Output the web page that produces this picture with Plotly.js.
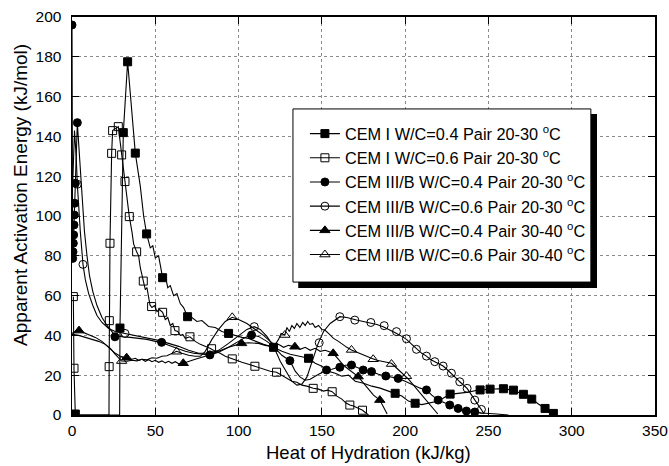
<!DOCTYPE html>
<html>
<head>
<meta charset="utf-8">
<script src="https://cdn.plot.ly/plotly-3.0.1.min.js"></script>
<style>html,body{margin:0;padding:0;background:#fff;}#chart{width:669px;height:466px;}</style>
</head>
<body>
<div id="chart"></div>
<script>
// Series names
const names = [
  "CEM I W/C=0.4 Pair 20-30 <sup>o</sup>C",
  "CEM I W/C=0.6 Pair 20-30 <sup>o</sup>C",
  "CEM III/B W/C=0.4 Pair 20-30 <sup>o</sup>C",
  "CEM III/B W/C=0.6 Pair 20-30 <sup>o</sup>C",
  "CEM III/B W/C=0.4 Pair 30-40 <sup>o</sup>C",
  "CEM III/B W/C=0.6 Pair 30-40 <sup>o</sup>C"
];
const xTitle = "Heat of Hydration (kJ/kg)";
const yTitle = "Apparent Activation Energy (kJ/mol)";

// Series 1: CEM I W/C=0.4 Pair 20-30
const s1x = [2,28.6,28.8,30.8,33.4,38,41,43,44.8,47,48.5,50,52,54.4,56,57.5,59,61,63,65,67,69.4,72,75,78,82,86,90,94,98,102,106,110,115,121,126,131,136,142,146,150,154,158,162,166,170,175,180,185,190,194,198,202,206,210,215,220,224,228,233,238,244,250,256,261,266,271,276,280,284,289];
const s1y = [0,0,43.7,141.9,177.5,131.6,115,100,91,84,85,79,80,69,70,64,65,60,61,56,54,49.4,49,47,47.5,44.5,44,42,41,40,39,38.5,37,35.5,34,32,30.5,29.5,28.5,26,24.5,22,21,19.5,20,17,16,14.5,13.5,12,10.9,9.5,7,5.9,5.2,6,7,9,10.5,11,11.5,12.6,13,13.2,13,12,10.4,8,5.5,3.3,0.5];
const s1mx = [2,28.8,30.8,33.4,38,44.8,54.4,69.4,94,121,142,194,206,227,245,251,259,265,271,276,284,289];
const s1my = [0.5,43.7,141.9,177.5,131.6,91,69,49.4,41,34,28.5,10.9,5.9,10.5,12.6,13,13.2,12.5,10.4,8,3.3,0.8];

// Series 2: CEM I W/C=0.6 Pair 20-30
const s2x = [0.8,1.2,2,22.2,22.3,22.4,22.8,23.8,24.4,27.8,29.8,31.8,34.4,36,37,38.8,40,41,42.8,44,45,46,46.8,48,49.5,51,52.5,54.4,56,57.5,59,60.5,61.8,63.5,65,66.5,68,70.8,74,77,80,82.8,86,89,92,95.8,99,102,106,109.8,113,116,119,122.8,126,129,132,135,138,141,144.8,148,151,153.5,156.2,159,162,164.5,166.8,169,171.5,174.4,176.5,178];
const s2y = [59.5,23,0,0,24.3,47.4,86.3,131.5,142.9,144.9,130.7,117.3,99.7,92,86,82,80,74,67.3,63,64,58,55.3,54,55,52,53,51.6,48,49,45,46,42.4,42,40,40.5,38.5,39.3,37,35.5,34.5,33.5,32,31,29.5,28.3,27.5,26.5,25.5,24.5,23.5,23,22,21.5,20,18.5,17,16.5,15,14.5,13.4,13,12,12.5,11.7,9.5,8,6,5,4.5,3.5,2.4,1,0];
const s2mx = [0.8,1.2,22.3,22.4,22.8,23.8,24.4,27.8,29.8,31.8,34.4,38.8,42.8,47.8,54.4,61.8,70.8,83.8,96.2,109.8,122.8,144.8,156.2,166.8,174.4];
const s2my = [59.5,23.5,24.3,47.4,86.3,131.5,142.9,144.9,130.7,117.3,99.7,82,67.3,54.5,51.6,42.4,39.3,33.3,28.2,24.5,21.5,13.4,11.7,5,2.4];

// Series 3: CEM III/B W/C=0.4 Pair 20-30
const s3x = [0,0.4,0.6,0.8,1,1.2,1.4,1.6,2,3.2,4.5,6,7.5,9,10.5,12.5,15,18,21,25.8,30,35,40,45,50,53.8,58,63,68,73,78,82.8,88,94,100,104,107.8,112,117,121,126,130.8,134,137,140,143,147,152.8,156,160.8,164,167.8,171,174.8,179.8,184,188.4,192,195.8,200,205,209,212.8,216,219.8,223,226.8,231.8,236.8,241.8,246,255,262];
const s3y = [196,78.7,82,86.3,90.5,95.5,100.5,106.4,116.4,146.9,130,108,92,80,70,62,55,49,45,40,39.3,39,38.5,38,37,36.5,35,33.5,32,31,30.5,30.2,31.5,34,37,39,40.2,39.5,37,34.5,30,27.3,22,19,17.5,18,20,22.6,23,24,25,25.1,24,22.6,21.8,20.5,19.6,19,18.4,17,15,13.5,12.6,10,7.5,6.5,5,3.3,2,1.5,1,0.5,0];
const s3mx = [0,0.4,0.6,0.8,1,1.2,1.4,1.6,2,3.2,25.8,53.8,82.8,107.8,130.8,152.8,160.8,167.8,174.8,179.8,188.4,195.8,212.8,219.8,226.8,231.8,236.8,241.8];
const s3my = [196,78.7,82,86.3,90.5,95.5,100.5,106.4,116.4,146.9,39.3,36.5,30.2,40.2,27.3,22.6,24,25.1,22.6,21.8,19.6,18.4,12.6,7.5,5,3.3,2,1.5];

// Series 4: CEM III/B W/C=0.6 Pair 20-30
const s4x = [0.5,1.5,2.5,3.2,5,6.6,8,10,12.5,15,18,22,26,31.8,38,45,52,58,64,70,76,82,88,94,100,105,109.4,113,117,121,125,129,132,135,138,141,144,147.8,151,155,160.8,165,170.8,175,179.8,183,186.8,190,193.8,197,200.8,204,207.8,210,212.8,215,217.8,220,222.8,225,227.8,230,232.8,235,237.2,239.5,241.8,243.8,245.8,247.5];
const s4y = [118,143,130,116,92,75.7,68,61,55,50,46.5,43.5,42,41,40,39,37.5,36,34.5,32.5,31,31,32.5,36,40,43,44.4,43,39.5,34.5,27,21,17,15,15.5,19,27,36,42,46,49.4,49,47.7,47,46.4,45.5,44.4,43.2,41.5,40,38,35.5,32.7,31,29.6,28,26.8,25.8,24.6,23,21,19,16.7,15,13.4,10.5,7.5,5,2.8,0.5];
const s4mx = [3.2,6.6,31.8,109.4,148.4,160.8,169.8,179.4,187.4,194.8,200.8,206.8,212.8,217.8,222.8,227.8,232.8,237.2,241.8,245.8];
const s4my = [116,75.7,41,44.4,36.3,49.4,47.7,46.5,44.9,41.9,38.3,33,29.6,26.8,24.6,21,16.7,13.4,7.5,2.8];

// Series 5: CEM III/B W/C=0.4 Pair 30-40
const s5x = [0,2,4.2,7,10,14,18,22,26,29,32.8,36,38,40,42,44,46,48,50,52,54,56,58,60,62,64,66.8,70,74,78,82.8,88,94,101.8,106,112,116,121,124,127,130,133.8,137,140,143,146,149,152,156.8,160,163,166,169,171.8,175,178,181,184.8,187,189.2];
const s5y = [41,42,42.4,41.5,40.5,39,37,34,31,29.5,28.8,28,28.5,27.5,28,27,27.8,26.8,27.5,26.5,27.2,26.2,27,26,26.8,25.8,26,27,28,29,30.2,32,34,36,36.3,36,35,34.3,35.5,34,35,34.3,33,34,32.5,33.5,32,32.5,31,28,25,23,21,19.3,16,13,10,7.5,4,0.5];
const s5mx = [4.2,32.8,66.8,101.8,133.8,156.8,171.8,184.8];
const s5my = [42.4,28.8,26,36,34.3,31,19.3,7.5];

// Series 6: CEM III/B W/C=0.6 Pair 30-40
const s6x = [0,4,8,12,16,20,23,26,29.8,33,36,39,42,45,48,51,54,57,60,62.8,66,70,74,77,80,84,88,92,96.2,100,105,110,115,119,121.8,124,125.5,127.8,129,130.5,132,133.5,135,136.8,138.5,140,141.5,142.8,144.5,146,148,150,151.8,154,157,160,163,165,167.8,171,174,177,179.8,183,186,189,191.8,195,197.5,199.8,202,205,208,211,214,217,219.6];
const s6y = [40.5,40,39,38,37,35.5,33.5,30.5,27.1,27,27.5,27.2,28,27.8,28.8,28.5,29.5,29.8,30.8,32,31,30,29.5,29.5,32,38,43,47,49.1,48,46,43,40,37,35.2,38,41,40.2,44,42,45,43.5,46,44,46.5,45,47,45.5,46,44,45,43,42.7,41,38.5,37,35,34,32.7,31.5,30.5,29.5,28.5,27.5,27,26.5,26,23.5,21.5,20.1,18,15,12,9,6,3,0.5];
const s6mx = [29.8,62.8,96.2,127.8,167.8,180.8,191.8,200.8];
const s6my = [27.1,31.8,49.1,40.2,32.7,28,25.6,19.5];

const lineX = [s1x,s2x,s3x,s4x,s5x,s6x];
const lineY = [s1y,s2y,s3y,s4y,s5y,s6y];
const markX = [s1mx,s2mx,s3mx,s4mx,s5mx,s6mx];
const markY = [s1my,s2my,s3my,s4my,s5my,s6my];
const symbols = ['square','square-open','circle','circle-open','triangle-up','triangle-up-open'];
const msize = [8,8,8,8,9,9];

const traces = [];
for (let i = 0; i < 6; i++) {
  traces.push({x: lineX[i], y: lineY[i], mode: 'lines', type: 'scatter',
    line: {color: '#000', width: 1.1}, showlegend: false, hoverinfo: 'skip'});
  traces.push({x: markX[i], y: markY[i], mode: 'markers', type: 'scatter',
    marker: {symbol: symbols[i], size: msize[i], color: '#000', line: {color: '#000', width: 1}},
    showlegend: false, hoverinfo: 'skip'});
}
for (let i = 0; i < 6; i++) {
  traces.push({x: [null], y: [null], mode: 'lines+markers', type: 'scatter', name: names[i],
    line: {color: '#000', width: 1.1},
    marker: {symbol: symbols[i], size: msize[i], color: '#000', line: {color: '#000', width: 1}}});
}

const font = 'Liberation Sans, Arial, sans-serif';
const layout = {
  width: 669, height: 466,
  margin: {l: 72, r: 14, t: 17, b: 51},
  paper_bgcolor: '#fff', plot_bgcolor: '#fff',
  font: {family: font, color: '#000', size: 15.5},
  xaxis: {
    range: [0, 350], dtick: 50, tick0: 0,
    ticks: 'inside', ticklen: 7, tickwidth: 1, tickcolor: '#000',
    showline: true, linecolor: '#000', linewidth: 1.8, mirror: 'ticks',
    showgrid: true, gridcolor: '#8a8a8a', gridwidth: 1, griddash: '3px,3px',
    zeroline: false, ticklabelstandoff: 1,
    tickfont: {family: font, size: 15.5, color: '#000'}
  },
  yaxis: {
    range: [0, 200], dtick: 20, tick0: 0,
    ticks: 'inside', ticklen: 7, tickwidth: 1, tickcolor: '#000',
    showline: true, linecolor: '#000', linewidth: 1.5, mirror: 'ticks',
    showgrid: true, gridcolor: '#8a8a8a', gridwidth: 1, griddash: '3px,3px',
    zeroline: false, ticklabelstandoff: 6,
    tickfont: {family: font, size: 15.5, color: '#000'}
  },
  annotations: [
    {text: xTitle, xref: 'paper', yref: 'paper', x: 0.5094, y: -0.093,
     xanchor: 'center', yanchor: 'middle', showarrow: false,
     font: {family: font, size: 18.5, color: '#000'}},
    {text: yTitle, xref: 'paper', yref: 'paper', x: -0.0875, y: 0.553, textangle: -90,
     xanchor: 'center', yanchor: 'middle', showarrow: false,
     font: {family: font, size: 19, color: '#000'}}
  ],
  legend: {
    x: 0.3995, y: 0.75, xanchor: 'left', yanchor: 'top',
    bgcolor: 'rgba(0,0,0,0)', borderwidth: 0,
    font: {family: font, size: 16.3, color: '#000'}
  },
  shapes: [
    {type: 'rect', xref: 'paper', yref: 'paper', x0: 0.388, x1: 0.9005, y0: 0.319, y1: 0.756,
     fillcolor: '#000', line: {width: 0}, layer: 'above'},
    {type: 'rect', xref: 'paper', yref: 'paper', x0: 0.379, x1: 0.890, y0: 0.334, y1: 0.769,
     fillcolor: '#fff', line: {color: '#000', width: 1}, layer: 'above'}
  ],
  showlegend: true
};

Plotly.newPlot('chart', traces, layout, {staticPlot: true, displayModeBar: false});
</script>
</body>
</html>
